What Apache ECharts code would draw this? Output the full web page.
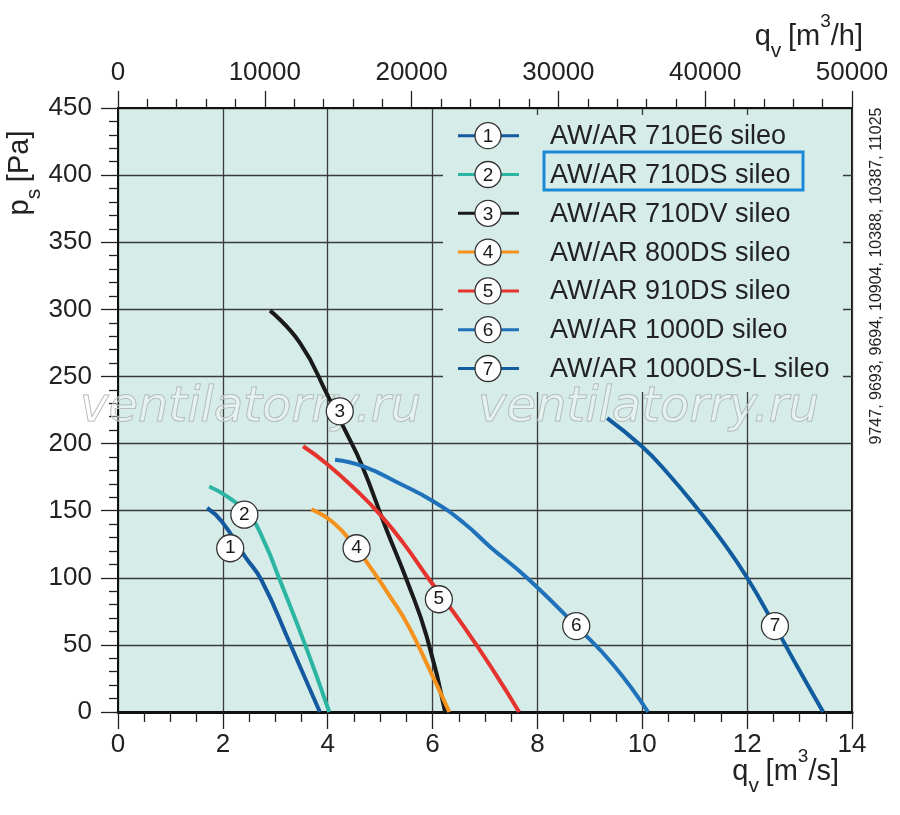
<!DOCTYPE html>
<html>
<head>
<meta charset="utf-8">
<script src="https://cdn.jsdelivr.net/npm/echarts@6/dist/echarts.min.js"></script>
<style>
  html, body { margin: 0; padding: 0; background: #fff; }
  #chart { width: 900px; height: 815px; }
</style>
</head>
<body>
<div id="chart"></div>
<script>
// fan curves: [qv m3/s, ps Pa]
const seriesNames = [
    'AW/AR 710E6 sileo',
    'AW/AR 710DS sileo',
    'AW/AR 710DV sileo',
    'AW/AR 800DS sileo',
    'AW/AR 910DS sileo',
    'AW/AR 1000D sileo',
    'AW/AR 1000DS-L sileo'
];
const curve1 = [[1.70, 152], [1.98, 142], [2.42, 116], [2.74, 98], [3.28, 51], [3.85, 0]];
const curve2 = [[1.74, 168], [2.10, 160], [2.52, 146], [2.80, 126], [3.06, 101], [3.57, 50], [4.03, 0]];
const curve3 = [[2.90, 299], [3.47, 275], [4.01, 235], [4.33, 210], [4.65, 184], [5.12, 136], [5.51, 98], [5.89, 56], [6.24, 0]];
const curve4 = [[3.69, 151], [4.11, 141], [4.55, 122], [4.81, 108], [5.19, 86], [5.54, 64], [5.95, 31], [6.32, 0]];
const curve5 = [[3.53, 198], [3.98, 185], [4.55, 165], [5.00, 147], [5.44, 126], [5.95, 98], [6.59, 64], [7.19, 29], [7.65, 0]];
const curve6 = [[4.14, 188], [4.68, 183], [5.38, 170], [6.01, 157], [6.59, 141], [7.10, 123], [7.80, 100], [8.74, 64], [9.45, 35], [10.11, 0]];
const curve7 = [[9.33, 219], [9.99, 198], [10.46, 179], [11.10, 149], [11.55, 126], [12.00, 100], [12.53, 64], [12.94, 35], [13.45, 0]];
// where the numbered circles sit
const labelPoints = [[2.14, 122], [2.41, 147], [4.23, 224], [4.55, 122], [6.12, 84], [8.74, 64], [12.53, 64]];
const serialText = '9747, 9693, 9694, 10904, 10388, 10387, 11025';

const curves = [curve1, curve2, curve3, curve4, curve5, curve6, curve7];
const colors = ['#15599f', '#2cb5a3', '#1a1a1a', '#f5921e', '#e5332d', '#1f72ba', '#105c9e'];
const FONT = '"Liberation Sans", Arial, Helvetica, sans-serif';
const BG = '#d6ece8';
const INK = '#222';

let legendEls = [];
// legend box covers the grid lines
legendEls.push({
    type: 'rect', z: 1,
    shape: {x: 443, y: 115, width: 400, height: 277},
    style: {fill: BG}
});
['ventilatorry.ru', 'ventilatorry.ru'].forEach(function (w, k) {
    legendEls.push({
        type: 'text', z: 1, z2: 5,
        x: k === 0 ? 80 : 478, y: 409,
        style: {
            text: w, font: 'italic 48px "DejaVu Sans", sans-serif',
            fill: 'rgba(255,255,255,0.35)', stroke: '#a8b0ae', lineWidth: 1,
            verticalAlign: 'middle'
        }
    });
});
seriesNames.forEach(function (name, i) {
    let y = 135.7 + i * 38.8;
    legendEls.push({
        type: 'line', z: 10,
        shape: {x1: 458, y1: y, x2: 519, y2: y},
        style: {stroke: colors[i], lineWidth: 3}
    });
    legendEls.push({
        type: 'circle', z: 10,
        shape: {cx: 488, cy: y, r: 13},
        style: {fill: '#fff', stroke: '#333', lineWidth: 1.3}
    });
    legendEls.push({
        type: 'text', z: 11, x: 488, y: y + 1,
        style: {text: String(i + 1), font: '19px ' + FONT, fill: '#1a1a1a', align: 'center', verticalAlign: 'middle'}
    });
    legendEls.push({
        type: 'text', z: 10, x: 550, y: y + 1,
        style: {text: name, font: '27px ' + FONT, fill: INK, verticalAlign: 'middle'}
    });
});
legendEls.push({
    type: 'rect', z: 12,
    shape: {x: 544, y: 152, width: 259, height: 38},
    style: {fill: 'none', stroke: '#1a8ad8', lineWidth: 3}
});

const richTitle = {
    m: {fontSize: 29, fontFamily: FONT, fill: INK, lineHeight: 50},
    sub: {fontSize: 21, fontFamily: FONT, fill: INK, lineHeight: 21, verticalAlign: 'bottom'},
    sup: {fontSize: 19, fontFamily: FONT, fill: INK, lineHeight: 26, verticalAlign: 'top'}
};
legendEls.push({
    type: 'text', z: 10, x: 20, y: 173, rotation: Math.PI / 2,
    style: {text: '{m|p}{sub|s}  {m|[Pa]}', rich: richTitle, align: 'center', verticalAlign: 'middle'}
});
legendEls.push({
    type: 'text', z: 10, x: 863, y: 37,
    style: {text: '{m|q}{sub|v}  {m|[m}{sup|3}{m|/h]}', rich: richTitle, align: 'right', verticalAlign: 'middle'}
});
legendEls.push({
    type: 'text', z: 10, x: 839, y: 772,
    style: {text: '{m|q}{sub|v}  {m|[m}{sup|3}{m|/s]}', rich: richTitle, align: 'right', verticalAlign: 'middle'}
});
legendEls.push({
    type: 'text', z: 10, x: 877, y: 276, rotation: Math.PI / 2,
    style: {text: serialText, font: '16px ' + FONT, fill: INK, align: 'center', verticalAlign: 'middle'}
});

const tickStyle = {color: INK, width: 1.3};
const labelStyle = {fontSize: 26, fontFamily: FONT, color: INK};

let option = {
    animation: false,
    backgroundColor: '#fff',
    grid: {
        left: 118, right: 48, top: 108, bottom: 103,
        show: true, backgroundColor: BG, borderColor: '#111', borderWidth: 2
    },
    xAxis: [
        {
            type: 'value', position: 'bottom', min: 0, max: 14, interval: 2,
            axisLine: {show: true, lineStyle: {color: '#111', width: 3}},
            axisTick: {show: true, length: 17, lineStyle: tickStyle},
            minorTick: {show: true, splitNumber: 4, length: 10, lineStyle: tickStyle},
            splitLine: {show: true, lineStyle: {color: '#3a3a3a', width: 1.3}},
            axisLabel: Object.assign({margin: 20}, labelStyle)
        },
        {
            type: 'value', position: 'top', min: 0, max: 50000, interval: 10000,
            axisLine: {show: true, lineStyle: {color: '#111', width: 2}},
            axisTick: {show: true, length: 17, lineStyle: tickStyle},
            minorTick: {show: true, splitNumber: 5, length: 9, lineStyle: tickStyle},
            splitLine: {show: false},
            axisLabel: Object.assign({margin: 22, formatter: function (v) { return String(v); }}, labelStyle)
        }
    ],
    yAxis: {
        type: 'value', min: 0, max: 450, interval: 50,
        axisLine: {show: true, lineStyle: {color: '#111', width: 2}},
        axisTick: {show: true, length: 17, lineStyle: tickStyle},
        minorTick: {show: true, splitNumber: 5, length: 9, lineStyle: tickStyle},
        splitLine: {show: true, lineStyle: {color: '#3a3a3a', width: 1.3}},
        axisLabel: Object.assign({margin: 26}, labelStyle)
    },
    graphic: {elements: legendEls},
    series: curves.map(function (c, i) {
        return {
            name: seriesNames[i],
            type: 'line',
            xAxisIndex: 0,
            yAxisIndex: 0,
            data: c,
            smooth: 0.5,
            symbol: 'none',
            z: 3,
            lineStyle: {color: colors[i], width: 4},
            markPoint: {
                symbol: 'circle',
                symbolSize: 27,
                z: 6,
                itemStyle: {color: '#fff', borderColor: '#333', borderWidth: 1.3},
                label: {show: true, formatter: String(i + 1), color: '#1a1a1a', fontSize: 19, fontFamily: FONT},
                data: [{coord: labelPoints[i]}]
            }
        };
    })
};

let myChart = echarts.init(document.getElementById('chart'));
myChart.setOption(option);
</script>
</body>
</html>
